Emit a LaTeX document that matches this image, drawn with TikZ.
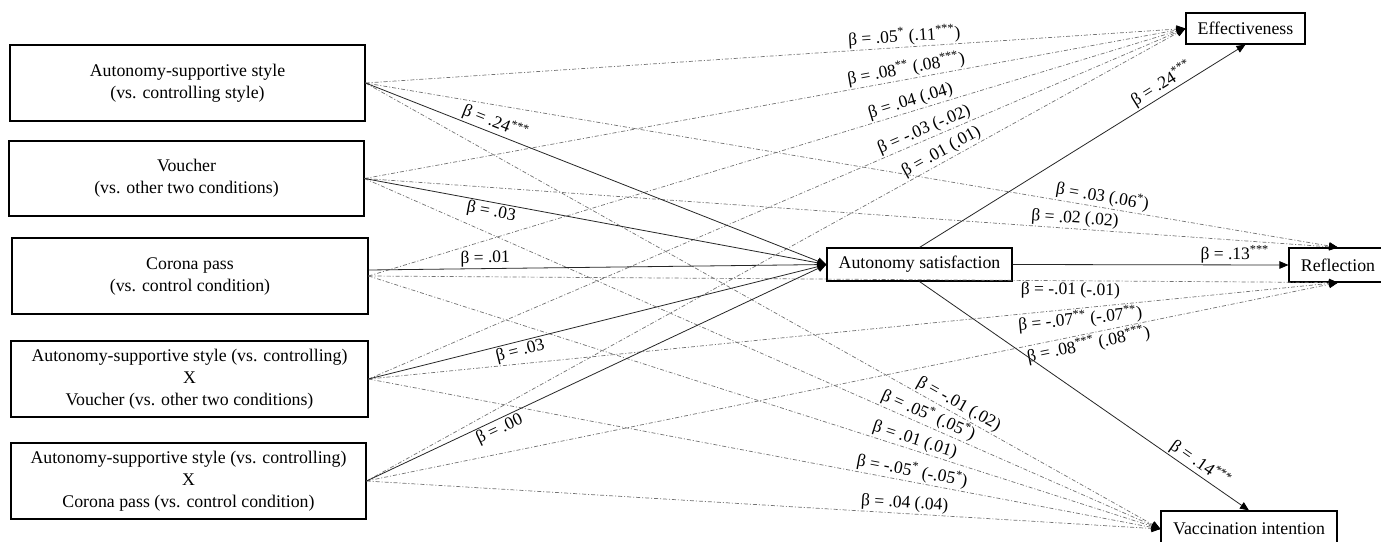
\documentclass[tikz,border=0pt]{standalone}
\usepackage{fontspec}
\setmainfont{Liberation Serif}
\usetikzlibrary{arrows.meta,calc}
\newcommand{\st}[1]{\textsuperscript{#1}}
\begin{document}
\begin{tikzpicture}[x=1pt,y=-1pt,
 box/.style={draw=black, line width=1.1pt, align=center, font=\fontsize{17.8}{22}\selectfont, inner sep=0pt},
 lbl/.style={font=\fontsize{17.5}{20}\selectfont, sloped, inner sep=1.5pt},
 tip/.style={-{Triangle[length=9pt,width=7.5pt,color=black]}},
 sol/.style={draw=black!85, line width=0.8pt, tip},
 dd/.style={draw=black!55, line width=0.7pt, dash pattern=on 4pt off 2pt on 1pt off 2pt, tip},
]
\useasboundingbox (0,0) rectangle (1381,541);
\clip (0,0) rectangle (1381,541);
\fill[white] (0,0) rectangle (1381,541);

% boxes
\node[box, minimum width=355pt, minimum height=76pt] (b1) at (187.5,83) {Autonomy-supportive style\\(vs. controlling style)};
\node[box, minimum width=355pt, minimum height=75pt] (b2) at (186.5,178.5) {Voucher\\(vs. other two conditions)};
\node[box, minimum width=356pt, minimum height=76pt] (b3) at (190,276) {Corona pass\\(vs. control condition)};
\node[box, minimum width=357pt, minimum height=76pt] (b4) at (189.5,379) {Autonomy-supportive style (vs. controlling)\\X\\Voucher (vs. other two conditions)};
\node[box, minimum width=355pt, minimum height=76pt] (b5) at (188.5,481) {Autonomy-supportive style (vs. controlling)\\X\\Corona pass (vs. control condition)};

\node[box, minimum width=185pt, minimum height=33pt] (med) at (919.5,264.5) {Autonomy satisfaction};
\node[box, minimum width=119pt, minimum height=31pt] (eff) at (1245.5,28.5) {Effectiveness};
\node[box, minimum width=98pt, minimum height=34pt] (ref) at (1338,265) {Reflection};
\node[box, minimum width=176pt, minimum height=36pt] (vac) at (1249,529) {Vaccination intention};

% dashed direct effects: effectiveness
\draw[dd] (b1.east) -- node[lbl, above, pos=0.658] {β = .05\st{*} (.11\st{***})} (eff.west);
\draw[dd] (b2.east) -- node[lbl, above, pos=0.662] {β = .08\st{**} (.08\st{***})} (eff.west);
\draw[dd] (b3.east) -- node[lbl, above, pos=0.667] {β = .04 (.04)} (eff.west);
\draw[dd] (b4.east) -- node[lbl, above, pos=0.685] {β = -.03 (-.02)} (eff.west);
\draw[dd] (b5.east) -- node[lbl, above, pos=0.708] {β = .01 (.01)} (eff.west);

% dashed direct effects: reflection
\draw[dd] (b1.east) -- node[lbl, above, pos=0.756] {β = .03 (.06\st{*})} (ref.north);
\draw[dd] (b2.east) -- node[lbl, above, pos=0.729] {β = .02 (.02)} (ref.north);
\draw[dd] (b3.east) -- node[lbl, below, pos=0.724] {β = -.01 (-.01)} (ref.south);
\draw[dd] (b4.east) -- node[lbl, below, pos=0.733] {β = -.07\st{**} (-.07\st{**})} (ref.south);
\draw[dd] (b5.east) -- node[lbl, below, pos=0.741] {β = .08\st{***} (.08\st{***})} (ref.south);

% dashed direct effects: vaccination
\draw[dd] (b1.east) -- node[lbl, above, pos=0.74] {β = -.01 (.02)} (vac.west);
\draw[dd] (b2.east) -- node[lbl, above, pos=0.703] {β = .05\st{*} (.05\st{*})} (vac.west);
\draw[dd] (b3.east) -- node[lbl, above, pos=0.686] {β = .01 (.01)} (vac.west);
\draw[dd] (b4.east) -- node[lbl, above, pos=0.684] {β = -.05\st{*} (-.05\st{*})} (vac.west);
\draw[dd] (b5.east) -- node[lbl, above, pos=0.677] {β = .04 (.04)} (vac.west);

% solid paths to mediator
\draw[sol] (b1.east) -- node[lbl, above, pos=0.273] {β = .24\st{***}} (med.west);
\draw[sol] (b2.east) -- node[lbl, below, pos=0.278] {β = .03} (med.west);
\draw[sol] ([yshift=6pt]b3.east) -- node[lbl, above, pos=0.255] {β = .01} (med.west);
\draw[sol] (b4.east) -- node[lbl, below, pos=0.326] {β = .03} (med.west);
\draw[sol] (b5.east) -- node[lbl, below, pos=0.28] {β = .00} (med.west);

% solid paths from mediator
\draw[sol] (med.north) -- node[lbl, above, pos=0.76] {β = .24\st{***}} (eff.south);
\draw[sol] (med.east) -- node[lbl, above, pos=0.805] {β = .13\st{***}} (ref.west);
\draw[sol] (med.south) -- node[lbl, above, pos=0.833] {β = .14\st{***}} (vac.north);
\end{tikzpicture}
\end{document}
